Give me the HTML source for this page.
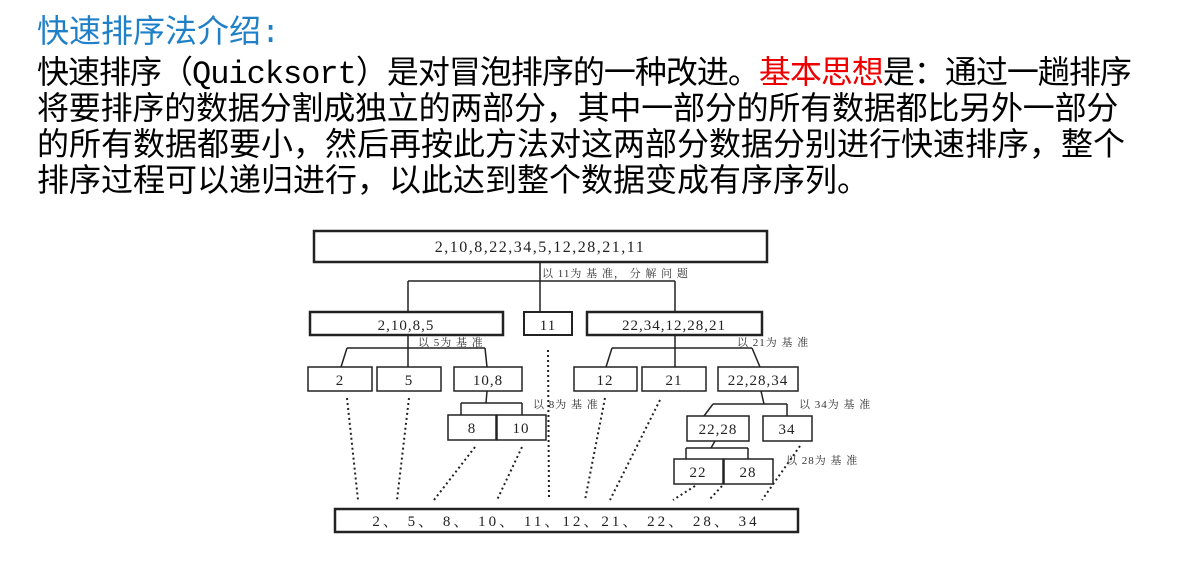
<!DOCTYPE html>
<html><head><meta charset="utf-8"><style>
body{margin:0;width:1180px;height:578px;background:#fff;overflow:hidden;position:relative}
.t{position:absolute;left:37px;white-space:nowrap;font-family:"Liberation Mono","WenQuanYi Zen Hei",monospace;font-size:32px;line-height:36px;color:#000}
.r{color:#e00}
svg{position:absolute;left:0;top:0}
svg text{font-family:"Liberation Serif","Noto Serif CJK SC",serif;}
</style></head><body>
<div class="t" style="top:16px;color:#1f80c8">快速排序法介绍:</div>
<div class="t" style="top:57px;letter-spacing:-1px">快速排序（Quicksort）是对冒泡排序的一种改进。<span class="r">基本思想</span>是：通过一趟排序</div>
<div class="t" style="top:93px;letter-spacing:-0.2px">将要排序的数据分割成独立的两部分，其中一部分的所有数据都比另外一部分</div>
<div class="t" style="top:129px">的所有数据都要小，然后再按此方法对这两部分数据分别进行快速排序，整个</div>
<div class="t" style="top:165px">排序过程可以递归进行，以此达到整个数据变成有序序列。</div>
<svg width="1180" height="578" viewBox="0 0 1180 578">
<g fill="none" stroke="#222" stroke-width="1.5">
<rect x="314" y="231" width="453" height="31" stroke-width="2.5"/>
<path d="M540 262V311 M408 281H675 M408 281V311 M675 281V311"/>
<rect x="310" y="312" width="193" height="23" stroke-width="2.5"/>
<rect x="524" y="312" width="48" height="23" stroke-width="2"/>
<rect x="587" y="312" width="175" height="23" stroke-width="2.5"/>
<path d="M408 335V367 M347 348H485 M347 348L341 367 M485 348L487 367"/>
<path d="M675 335V367 M612 348H752 M612 348L606 367 M752 348L760 367"/>
<rect x="308" y="367" width="64" height="24"/>
<rect x="377" y="367" width="64" height="24"/>
<rect x="454" y="367" width="68" height="24"/>
<rect x="574" y="367" width="63" height="24"/>
<rect x="642" y="367" width="64" height="24"/>
<rect x="718" y="367" width="80" height="24"/>
<path d="M487 391L486 403 M461 403H522 M461 403V415 M522 403V415"/>
<rect x="448" y="415" width="48" height="25"/>
<rect x="497" y="415" width="49" height="25"/>
<path d="M761 391L764 404 M713 404H787 M713 404L704 416 M787 404V416"/>
<rect x="687" y="416" width="62" height="25"/>
<rect x="763" y="416" width="49" height="25"/>
<path d="M715 441L711 448 M686 448H748 M686 448V459 M748 448V459"/>
<rect x="674" y="459" width="49" height="25"/>
<rect x="724" y="459" width="49" height="25"/>
<rect x="335" y="509" width="463" height="23" stroke-width="2.5"/>
</g>
<g stroke="#222" stroke-width="2" stroke-dasharray="2,3">
<path d="M347 398L358 500 M409 398L397 500 M475 447L434 500 M522 447L497 500 M548 350L549 500 M605 398L585 500 M660 400L610 500 M695 486L673 500 M722 486L709 500 M800 446L762 500"/>
</g>
<g font-size="15" fill="#222" text-anchor="middle" letter-spacing="1">
<text x="540" y="252" font-size="16" letter-spacing="1.5">2,10,8,22,34,5,12,28,21,11</text>
<text x="406" y="330">2,10,8,5</text>
<text x="548" y="330">11</text>
<text x="674" y="330">22,34,12,28,21</text>
<text x="340" y="385">2</text>
<text x="409" y="385">5</text>
<text x="488" y="385">10,8</text>
<text x="605" y="385">12</text>
<text x="674" y="385">21</text>
<text x="758" y="385">22,28,34</text>
<text x="472" y="433">8</text>
<text x="521" y="433">10</text>
<text x="718" y="434">22,28</text>
<text x="787" y="434">34</text>
<text x="698" y="477">22</text>
<text x="748" y="477">28</text>
<text x="566" y="526" letter-spacing="3">2、 5、 8、 10、  11、12、21、 22、 28、 34</text>
</g>
<g font-size="11" fill="#333" letter-spacing="1">
<text x="542" y="277">以 11为 基 准， 分 解 问 题</text>
<text x="418" y="346">以 5为 基 准</text>
<text x="737" y="346">以 21为 基 准</text>
<text x="533" y="408">以 8为 基 准</text>
<text x="799" y="408">以 34为 基 准</text>
<text x="786" y="464">以 28为 基 准</text>
</g>
</svg>
</body></html>
